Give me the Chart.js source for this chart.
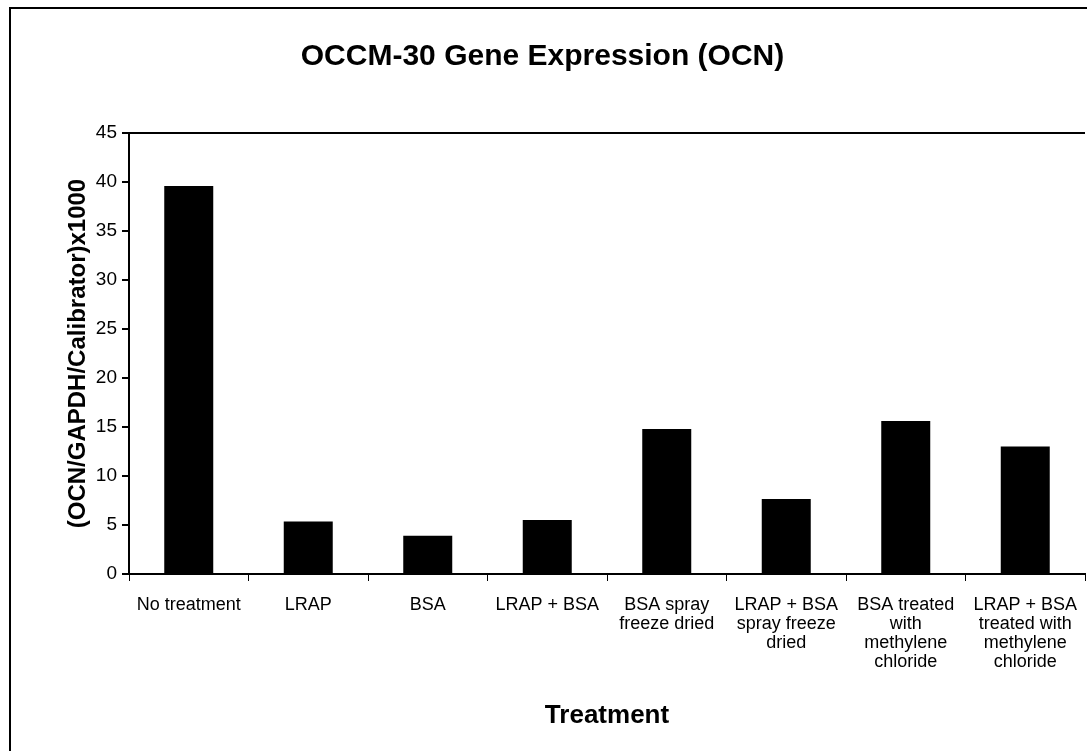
<!DOCTYPE html>
<html>
<head>
<meta charset="utf-8">
<script src="https://cdn.jsdelivr.net/npm/chart.js@4.4.1/dist/chart.umd.min.js"></script>
<style>
  html, body { margin: 0; padding: 0; background: #fff; }
</style>
</head>
<body>
<canvas id="OcnBarChart" width="1087" height="751"></canvas>
<script>
// values
var treatments = [
  'No treatment',
  'LRAP',
  'BSA',
  'LRAP + BSA',
  ['BSA spray', 'freeze dried'],
  ['LRAP + BSA', 'spray freeze', 'dried'],
  ['BSA treated', 'with', 'methylene', 'chloride'],
  ['LRAP + BSA', 'treated with', 'methylene', 'chloride']
];
var ocn_values = [39.6, 5.35, 3.9, 5.5, 14.8, 7.65, 15.6, 13.0];
var y_ticks = [0, 5, 10, 15, 20, 25, 30, 35, 40, 45];

// outer frame (left + top edges only show in the reference)
var framePlugin = {
  id: 'frame',
  beforeDraw: function(chart){
    var c = chart.ctx;
    c.save();
    c.fillStyle = '#fff';
    c.fillRect(0, 0, chart.width, chart.height);
    c.strokeStyle = '#000';
    c.lineWidth = 2;
    c.beginPath();
    c.moveTo(10, chart.height);
    c.lineTo(10, 8);
    c.lineTo(chart.width, 8);
    c.stroke();
    c.restore();
  }
};

var ctx = document.getElementById('OcnBarChart');
var myBarChart = new Chart(ctx, {
  type: 'bar',
  data: {
    labels: treatments,
    datasets: [{
      label: 'OCN',
      data: ocn_values,
      backgroundColor: '#000',
      borderWidth: 0,
      categoryPercentage: 1.0,
      barPercentage: 0.41
    }]
  },
  options: {
    responsive: false,
    animation: false,
    devicePixelRatio: 1,
    layout: { padding: { left: 0, right: 2, top: 0, bottom: 0 } },
    plugins: {
      legend: { display: false },
      tooltip: { enabled: false },
      title: {
        display: true,
        text: 'OCCM-30 Gene Expression (OCN)',
        color: '#000',
        font: { family: 'Liberation Sans, Arial', size: 30, weight: 'bold' },
        padding: { top: 39, bottom: 58 }
      }
    },
    scales: {
      x: {
        afterFit: function(scale){
          scale.height = 177;
          scale.paddingLeft = 0;
          scale.paddingRight = 0;
        },
        border: { color: '#000', width: 2 },
        grid: { offset: true, drawOnChartArea: false, color: '#000', tickLength: 7, lineWidth: 1 },
        ticks: {
          color: '#000',
          maxRotation: 0,
          autoSkip: false,
          padding: 15,
          font: { family: 'Liberation Sans, Arial', size: 18, lineHeight: 1.05 }
        },
        title: {
          display: true,
          text: 'Treatment',
          color: '#000',
          font: { family: 'Liberation Sans, Arial', size: 26, weight: 'bold' },
          padding: { top: 0, bottom: 20 }
        }
      },
      y: {
        min: 0,
        max: 45,
        afterFit: function(scale){ scale.width = 129; },
        afterBuildTicks: function(scale){ scale.ticks = y_ticks.map(function(v){ return { value: v }; }); },
        border: { color: '#000', width: 2 },
        grid: {
          color: function(c){ return c.tick && c.tick.value === 45 ? '#000' : 'rgba(0,0,0,0)'; },
          lineWidth: 2,
          tickColor: '#000',
          tickLength: 7
        },
        ticks: {
          color: '#000',
          padding: 5,
          font: { family: 'Liberation Sans, Arial', size: 19 }
        },
        title: {
          display: true,
          text: '(OCN/GAPDH/Calibrator)x1000',
          color: '#000',
          font: { family: 'Liberation Sans, Arial', size: 24, weight: 'bold' },
          padding: { top: 64, bottom: 0 }
        }
      }
    }
  },
  plugins: [framePlugin]
});
</script>
</body>
</html>
